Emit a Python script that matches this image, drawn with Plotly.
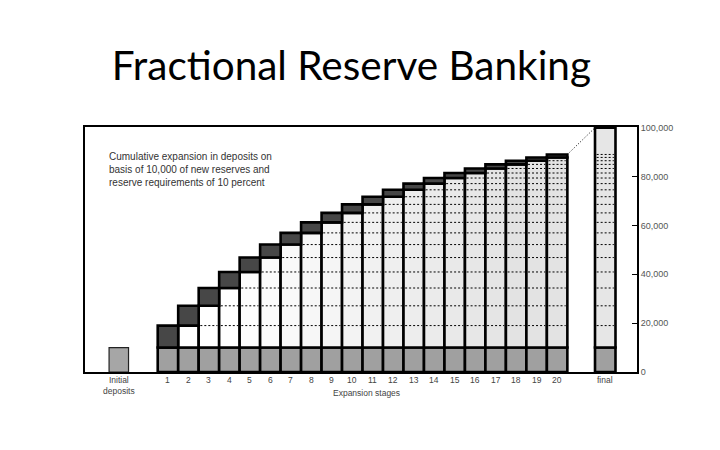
import plotly.graph_objects as go

# ---- data ----
stages = list(range(1, 21))
stage_labels = [str(s) for s in stages]
initial_deposit = 10000
# new deposits created at each expansion stage (top dark blocks)
increments = [9000, 8100, 7290, 6561, 5905, 5314, 4783, 4305, 3874, 3487,
              3138, 2824, 2542, 2288, 2059, 1853, 1668, 1501, 1351, 1216]
# cumulative deposits reached at each stage (top of each column)
cumulative = [19000, 27100, 34390, 40951, 46856, 52170, 56953, 61258, 65132, 68619,
              71757, 74581, 77123, 79411, 81470, 83323, 84991, 86492, 87843, 89059]
final_total = 100000
y_ticks = [0, 20000, 40000, 60000, 80000, 100000]
y_tick_text = ["0", "20,000", "40,000", "60,000", "80,000", "100,000"]
note = ("Cumulative expansion in deposits on<br>basis of 10,000 of new reserves and<br>"
        "reserve requirements of 10 percent")

X_INIT = -1.4
X_FINAL = 22.35

prev_total = [initial_deposit] + cumulative[:-1]

fig = go.Figure()

# middle fill colours: white early, light stipple grey later
mid_colors = []
for i in range(len(stages)):
    g = int(255 - min(1.0, max(0.0, (i - 3) / 14)) * 28)
    mid_colors.append(f"rgb({g},{g},{g})")

edge = dict(color="black", width=2.6)
BASE_GREY = "#a0a0a0"

# initial deposit
fig.add_trace(go.Bar(x=[X_INIT], y=[initial_deposit], width=0.95,
                     marker=dict(color="#a6a6a6", line=dict(color="#222", width=1.2))))
# base reserve block for each stage
fig.add_trace(go.Bar(x=stages, y=[initial_deposit] * len(stages), width=1.0,
                     marker=dict(color=BASE_GREY, line=edge)))
# middle (previous cumulative) block
fig.add_trace(go.Bar(x=stages, base=[initial_deposit] * len(stages),
                     y=[p - initial_deposit for p in prev_total], width=1.0,
                     marker=dict(color=mid_colors, line=edge)))
# new deposits block
fig.add_trace(go.Bar(x=stages, base=prev_total, y=increments, width=1.0,
                     marker=dict(color="#474747", line=edge)))
# final
fig.add_trace(go.Bar(x=[X_FINAL], y=[initial_deposit], width=1.0,
                     marker=dict(color=BASE_GREY, line=edge)))
fig.add_trace(go.Bar(x=[X_FINAL], base=[initial_deposit], y=[final_total - initial_deposit],
                     width=1.0, marker=dict(color="#e6e6e6", line=edge)))

# dotted level lines inside each column
lx, ly = [], []
for i, s in enumerate(stages):
    for lev in (cumulative[:i - 1] if i >= 1 else []):
        lx += [s - 0.42, s + 0.42, None]
        ly += [lev, lev, None]
for lev in cumulative:
    lx += [X_FINAL - 0.42, X_FINAL + 0.42, None]
    ly += [lev, lev, None]
fig.add_trace(go.Scatter(x=lx, y=ly, mode="lines",
                         line=dict(color="black", width=1, dash="2px,2px"),
                         hoverinfo="skip"))
# dotted connector from stage 20 to final
fig.add_trace(go.Scatter(x=[stages[-1] + 0.5, X_FINAL - 0.5],
                         y=[cumulative[-1], final_total], mode="lines",
                         line=dict(color="black", width=1, dash="1px,2px"),
                         hoverinfo="skip"))

tick_font = dict(family="Liberation Sans", size=8.5, color="#444")
annotations = [
    dict(text=note, x=-2.0, y=91500, xref="x", yref="y", xanchor="left",
         yanchor="top", align="left", showarrow=False,
         font=dict(family="Liberation Sans", size=10, color="#333")),
    dict(text="Expansion stages", x=10.7, y=-0.058, xref="x", yref="paper",
         xanchor="center", yanchor="top", showarrow=False, font=tick_font),
    dict(text="Initial<br>deposits", x=X_INIT, y=-0.005, xref="x", yref="paper",
         xanchor="center", yanchor="top", showarrow=False, font=tick_font),
    dict(text="final", x=X_FINAL, y=-0.005, xref="x", yref="paper",
         xanchor="center", yanchor="top", showarrow=False, font=tick_font),
]
for s, lab in zip(stages, stage_labels):
    annotations.append(dict(text=lab, x=s, y=-0.005, xref="x", yref="paper",
                            xanchor="center", yanchor="top", showarrow=False,
                            font=tick_font))

fig.update_layout(
    width=720, height=450,
    margin=dict(l=85, r=83, t=127, b=78),
    paper_bgcolor="white", plot_bgcolor="white",
    showlegend=False, barmode="overlay",
    title=dict(text="Fractional Reserve Banking", x=0.488, xanchor="center",
               y=1 - 66 / 450, yanchor="middle",
               font=dict(family="Lato", size=40.5, color="black")),
    xaxis=dict(range=[-3.05, 23.9], showticklabels=False,
               showgrid=False, zeroline=False, showline=True, linecolor="black",
               linewidth=2, mirror=True, ticks=""),
    yaxis=dict(range=[0, 100300], side="right", tickvals=y_ticks, ticktext=y_tick_text,
               tickfont=dict(family="Liberation Sans", size=9, color="#555"),
               showgrid=False, zeroline=False, showline=True, linecolor="black",
               linewidth=2, mirror=True, ticks="inside", ticklen=5, tickcolor="black"),
    annotations=annotations,
)

fig.write_html("out.html", config={"displayModeBar": False},
               post_script="document.body.style.margin='0';")
